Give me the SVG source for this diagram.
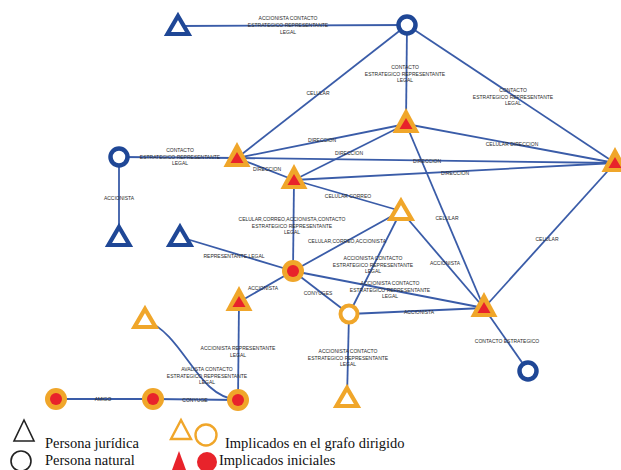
<svg xmlns="http://www.w3.org/2000/svg" width="621" height="470" viewBox="0 0 621 470">
<defs>
<style>
.e{stroke:#3a5ca8;stroke-width:1.8;fill:none}
.l{font-family:"Liberation Sans",Arial,sans-serif;font-size:5px;fill:#2a2a2a;text-anchor:middle}
.bt{fill:#fff;stroke:#1f4796;stroke-width:4.2;stroke-linejoin:miter}
.bc{fill:#fff;stroke:#1f4796;stroke-width:4.5}
.ot{fill:#fff;stroke:#f0a62a;stroke-width:4.2;stroke-linejoin:miter}
.oc{fill:#fff;stroke:#f0a62a;stroke-width:4}
.io{fill:#f0a62a}
.ir{fill:#e8232b}
.lg{font-family:"Liberation Serif","Times New Roman",serif;font-size:14.5px;fill:#111}
</style>
<path id="tri" d="M0,-11 L10.5,7 L-10.5,7 Z"/>
<g id="itri"><path class="io" d="M0,-16 L13.5,9 L-13.5,9 Z"/><path class="ir" d="M0,-6 L6.5,5 L-6.5,5 Z"/></g>
<g id="icir"><circle class="io" r="11"/><circle class="ir" r="6"/></g>
</defs>
<rect width="621" height="470" fill="#fff"/>
<g id="connectors">
<line class="e" x1="178" y1="26" x2="407" y2="25"/>
<line class="e" x1="407" y1="25" x2="406" y2="124"/>
<line class="e" x1="407" y1="25" x2="237" y2="158"/>
<line class="e" x1="407" y1="25" x2="615" y2="163"/>
<line class="e" x1="119" y1="157" x2="237" y2="158"/>
<line class="e" x1="119" y1="157" x2="119" y2="237"/>
<line class="e" x1="237" y1="158" x2="406" y2="124"/>
<line class="e" x1="237" y1="158" x2="294" y2="180"/>
<line class="e" x1="237" y1="158" x2="615" y2="163"/>
<line class="e" x1="294" y1="180" x2="406" y2="124"/>
<line class="e" x1="294" y1="180" x2="615" y2="163"/>
<line class="e" x1="406" y1="124" x2="615" y2="163"/>
<line class="e" x1="406" y1="124" x2="484" y2="308"/>
<line class="e" x1="294" y1="180" x2="401" y2="211"/>
<line class="e" x1="294" y1="180" x2="293" y2="271"/>
<line class="e" x1="293" y1="271" x2="401" y2="211"/>
<line class="e" x1="180" y1="237" x2="293" y2="271"/>
<line class="e" x1="401" y1="211" x2="349" y2="314"/>
<line class="e" x1="401" y1="211" x2="484" y2="308"/>
<line class="e" x1="615" y1="163" x2="484" y2="308"/>
<line class="e" x1="293" y1="271" x2="484" y2="308"/>
<line class="e" x1="293" y1="271" x2="239" y2="302"/>
<line class="e" x1="293" y1="271" x2="349" y2="314"/>
<line class="e" x1="349" y1="314" x2="484" y2="308"/>
<line class="e" x1="484" y1="308" x2="528" y2="371"/>
<line class="e" x1="349" y1="314" x2="347" y2="398"/>
<line class="e" x1="239" y1="302" x2="238" y2="400"/>
<path class="e" d="M145,320 C185,335 196,397 238,400"/>
<line class="e" x1="56" y1="399" x2="153" y2="399"/>
<line class="e" x1="153" y1="399" x2="238" y2="400"/>
</g>
<g id="labels">
<text class="l" x="288" y="20">ACCIONISTA CONTACTO</text>
<text class="l" x="288" y="27">ESTRATEGICO REPRESENTANTE</text>
<text class="l" x="288" y="34">LEGAL</text>
<text class="l" x="405" y="69">CONTACTO</text>
<text class="l" x="405" y="75.5">ESTRATEGICO REPRESENTANTE</text>
<text class="l" x="405" y="82">LEGAL</text>
<text class="l" x="318" y="95">CELULAR</text>
<text class="l" x="513" y="92">CONTACTO</text>
<text class="l" x="513" y="98.5">ESTRATEGICO REPRESENTANTE</text>
<text class="l" x="513" y="105">LEGAL</text>
<text class="l" x="180" y="152">CONTACTO</text>
<text class="l" x="180" y="158.5">ESTRATEGICO REPRESENTANTE</text>
<text class="l" x="180" y="165">LEGAL</text>
<text class="l" x="119" y="200">ACCIONISTA</text>
<text class="l" x="322" y="142">DIRECCION</text>
<text class="l" x="267" y="171">DIRECCION</text>
<text class="l" x="349" y="155">DIRECCION</text>
<text class="l" x="427" y="163">DIRECCION</text>
<text class="l" x="455" y="175">DIRECCION</text>
<text class="l" x="512" y="146">CELULAR DIRECCION</text>
<text class="l" x="348" y="198">CELULAR CORREO</text>
<text class="l" x="292" y="221">CELULAR,CORREO,ACCIONISTA,CONTACTO</text>
<text class="l" x="292" y="227.5">ESTRATEGICO REPRESENTANTE</text>
<text class="l" x="292" y="234">LEGAL</text>
<text class="l" x="347" y="243">CELULAR,CORREO,ACCIONISTA</text>
<text class="l" x="234" y="258">REPRESENTANTE LEGAL</text>
<text class="l" x="373" y="260">ACCIONISTA CONTACTO</text>
<text class="l" x="373" y="266.5">ESTRATEGICO REPRESENTANTE</text>
<text class="l" x="373" y="273">LEGAL</text>
<text class="l" x="390" y="285">ACCIONISTA CONTACTO</text>
<text class="l" x="390" y="291.5">ESTRATEGICO REPRESENTANTE</text>
<text class="l" x="390" y="298">LEGAL</text>
<text class="l" x="263" y="290">ACCIONISTA</text>
<text class="l" x="318" y="295">CONYUGES</text>
<text class="l" x="419" y="314">ACCIONISTA</text>
<text class="l" x="445" y="265">ACCIONISTA</text>
<text class="l" x="447" y="220">CELULAR</text>
<text class="l" x="547" y="241">CELULAR</text>
<text class="l" x="507" y="343">CONTACTO ESTRATEGICO</text>
<text class="l" x="348" y="353">ACCIONISTA CONTACTO</text>
<text class="l" x="348" y="359.5">ESTRATEGICO REPRESENTANTE</text>
<text class="l" x="348" y="366">LEGAL</text>
<text class="l" x="238" y="350">ACCIONISTA REPRESENTANTE</text>
<text class="l" x="238" y="356.5">LEGAL</text>
<text class="l" x="207" y="371">AVALISTA CONTACTO</text>
<text class="l" x="207" y="377.5">ESTRATEGICO REPRESENTANTE</text>
<text class="l" x="207" y="384">LEGAL</text>
<text class="l" x="103" y="401">AMIGO</text>
<text class="l" x="195" y="402">CONYUGE</text>
</g>
<g id="n1"><use href="#tri" class="bt" x="178" y="27"/></g>
<g id="n2"><circle class="bc" cx="407" cy="25" r="8.5"/></g>
<g id="n3"><use href="#itri" x="406" y="124"/></g>
<g id="n4"><use href="#itri" x="615" y="163"/></g>
<g id="n5"><circle class="bc" cx="119" cy="157" r="8.5"/></g>
<g id="n6"><use href="#itri" x="237" y="158"/></g>
<g id="n7"><use href="#itri" x="294" y="180"/></g>
<g id="n8"><use href="#tri" class="bt" x="119" y="238"/></g>
<g id="n9"><use href="#tri" class="bt" x="180" y="238"/></g>
<g id="n10"><use href="#tri" class="ot" x="401" y="212"/></g>
<g id="n11"><use href="#icir" x="293" y="271"/></g>
<g id="n12"><use href="#itri" x="239" y="302"/></g>
<g id="n13"><use href="#tri" class="ot" x="145" y="320"/></g>
<g id="n14"><circle class="oc" cx="349" cy="314" r="8.5"/></g>
<g id="n15"><use href="#itri" x="484" y="308"/></g>
<g id="n16"><circle class="bc" cx="528" cy="371" r="8.5"/></g>
<g id="n17"><use href="#tri" class="ot" x="347" y="399"/></g>
<g id="n18"><use href="#icir" x="56" y="399"/></g>
<g id="n19"><use href="#icir" x="153" y="399"/></g>
<g id="n20"><use href="#icir" x="238" y="400"/></g>
<g id="legend">
<path d="M24,420 L34,441 L14,441 Z" fill="none" stroke="#222" stroke-width="1.6"/>
<text class="lg" x="45" y="448">Persona jurídica</text>
<circle cx="21" cy="461" r="10" fill="none" stroke="#222" stroke-width="1.6"/>
<text class="lg" x="45" y="465">Persona natural</text>
<path d="M181,420 L191,439 L171,439 Z" fill="none" stroke="#f0a62a" stroke-width="2.4"/>
<circle cx="206" cy="435" r="10.5" fill="none" stroke="#f0a62a" stroke-width="2.4"/>
<text class="lg" x="225" y="448">Implicados en el grafo dirigido</text>
<path d="M179,451 L186,470 L172,470 Z" fill="#e8232b"/>
<circle cx="207" cy="462" r="10" fill="#e8232b"/>
<text class="lg" x="219" y="465">Implicados iniciales</text>
</g>
</svg>
